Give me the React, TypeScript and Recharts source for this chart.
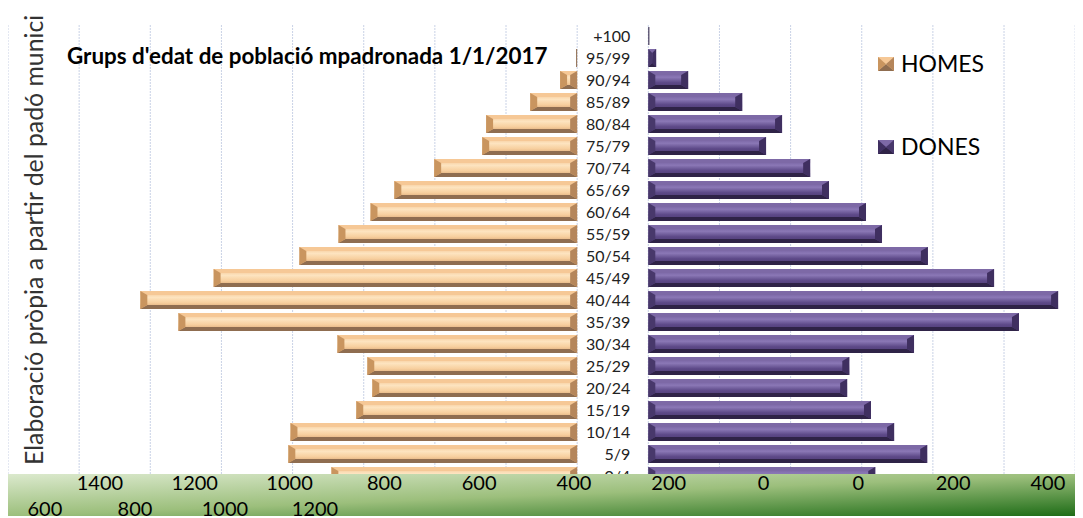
import React from "react";
import {
  Bar,
  BarChart,
  CartesianGrid,
  Customized,
  LabelList,
  XAxis,
  YAxis,
} from "recharts";

// age groups, top of the pyramid first
const AGES = [
  "+100", "95/99", "90/94", "85/89", "80/84", "75/79", "70/74", "65/69", "60/64",
  "55/59", "50/54", "45/49", "40/44", "35/39", "30/34", "25/29", "20/24", "15/19",
  "10/14", "5/9", "0/4",
];
const HOMES = [0, 3, 48, 132, 256, 267, 402, 514, 581, 671, 781, 1022, 1228, 1121, 674, 590, 576, 621, 806, 812, 691];
const DONES = [3, 22, 112, 264, 376, 331, 455, 508, 612, 657, 786, 972, 1152, 1042, 747, 565, 559, 626, 691, 784, 638];

// tick texts as they appear on the (misaligned) axis strip
const AXIS_ROW1 = ["1400", "1200", "1000", "800", "600", "400", "200", "0", "0", "200", "400"];
const AXIS_ROW2 = ["600", "800", "1000", "1200"];
const GRID_TICKS = [-1400, -1200, -1000, -800, -600, -400, -200, 0, 200, 400, 600, 800, 1000, 1200, 1400];

const TITLE = "Grups d'edat de població mpadronada 1/1/2017";
const SIDE_TEXT = "Elaboració pròpia a partir del padó munici";

// width of the empty column holding the age labels, in axis units
const GAP = 200;

const data = AGES.map((age, i) => ({
  age,
  homes: -HOMES[i],
  gap: GAP,
  dones: DONES[i],
}));

type Palette = { face: string; top: string; bottom: string; outer: string; inner: string };

const TAN: Palette = { face: "url(#tanFace)", top: "#f6c896", bottom: "#8f6d50", outer: "#c9955f", inner: "#b5865b" };
const PURPLE: Palette = { face: "url(#purpleFace)", top: "#7d69a6", bottom: "#2f2347", outer: "#3f2f60", inner: "#48386b" };

function bevel(x: number, y: number, w: number, h: number, pal: Palette, outerLeft: boolean, b: number, t: number) {
  const L = outerLeft ? pal.outer : pal.inner;
  const R = outerLeft ? pal.inner : pal.outer;
  return (
    <g>
      <rect x={x} y={y} width={w} height={h} fill={pal.face} />
      <polygon points={`${x},${y} ${x + w},${y} ${x + w - b},${y + t} ${x + b},${y + t}`} fill={pal.top} />
      <polygon points={`${x},${y + h} ${x + w},${y + h} ${x + w - b},${y + h - t} ${x + b},${y + h - t}`} fill={pal.bottom} />
      <polygon points={`${x},${y} ${x + b},${y + t} ${x + b},${y + h - t} ${x},${y + h}`} fill={L} />
      <polygon points={`${x + w},${y} ${x + w - b},${y + t} ${x + w - b},${y + h - t} ${x + w},${y + h}`} fill={R} />
    </g>
  );
}

function BevelBar(props: any) {
  const { x, y, width, height, pal, outerLeft } = props;
  const w = Math.abs(width);
  const x0 = width < 0 ? x + width : x;
  if (!w || w < 0.5) return null;
  if (w < 2.5) return <rect x={x0} y={y} width={w} height={height} fill={pal.bottom} />;
  return bevel(x0, y, w, height, pal, outerLeft, Math.min(7, w / 2), Math.min(4, height / 2));
}

function makeTick(labels: string[], dy: number, withBand: boolean) {
  return (props: any) => {
    const { x, y, payload, index } = props;
    return (
      <g>
        {withBand && index === 0 && <rect x={0} y={466} width={1075} height={42} fill="url(#band)" />}
        <text x={x} y={y + dy} textAnchor="middle" dominantBaseline="central" fontSize={20} fill="#000">
          {labels[payload.value]}
        </text>
      </g>
    );
  };
}

function Overlay() {
  return (
    <g>
      <defs>
        <linearGradient id="tanFace" x1="0" y1="0" x2="0" y2="1">
          <stop offset="0" stopColor="#f3bd87" />
          <stop offset="0.35" stopColor="#fde4c0" />
          <stop offset="0.65" stopColor="#f7cf9e" />
          <stop offset="1" stopColor="#d29d6c" />
        </linearGradient>
        <linearGradient id="purpleFace" x1="0" y1="0" x2="0" y2="1">
          <stop offset="0" stopColor="#6a5695" />
          <stop offset="0.35" stopColor="#8b78b6" />
          <stop offset="0.65" stopColor="#5d4988" />
          <stop offset="1" stopColor="#4b3a72" />
        </linearGradient>
        <linearGradient id="band" x1="0" y1="0" x2="1" y2="1">
          <stop offset="0" stopColor="#dbe9cd" />
          <stop offset="0.5" stopColor="#9cbf7c" />
          <stop offset="1" stopColor="#1d6c16" />
        </linearGradient>
      </defs>
      <text x={59} y={56} fontSize={22.4} fontWeight="bold" fill="#000">
        {TITLE}
      </text>
      <text x={35} y={457} fontSize={24.8} fill="#333" transform="rotate(-90 35 457)">
        {SIDE_TEXT}
      </text>
      {bevel(870, 49, 16, 14, TAN, true, 8, 7)}
      <text x={893} y={64} fontSize={23} fill="#000">HOMES</text>
      {bevel(870, 132, 16, 14, PURPLE, true, 8, 7)}
      <text x={893} y={147} fontSize={23} fill="#000">DONES</text>
    </g>
  );
}

export default function App() {
  return (
    <div style={{ fontFamily: "Lato, 'Noto Sans', sans-serif" }}>
      <BarChart
        width={1075}
        height={510}
        data={data}
        layout="vertical"
        stackOffset="sign"
        barSize={18}
        margin={{ top: 16, right: 0, left: 0, bottom: 0 }}
      >
        <CartesianGrid horizontal={false} stroke="#c9d2e6" strokeDasharray="2 1" />
        <XAxis type="number" domain={[-1600, 1422]} ticks={GRID_TICKS} allowDataOverflow hide />
        <YAxis type="category" dataKey="age" hide />
        <Bar
          dataKey="homes"
          stackId="a"
          isAnimationActive={false}
          shape={(p: any) => <BevelBar {...p} pal={TAN} outerLeft />}
        />
        <Bar dataKey="gap" stackId="a" fill="none" isAnimationActive={false}>
          <LabelList dataKey="age" position="insideRight" offset={18} fontSize={16} fill="#222" />
        </Bar>
        <Bar
          dataKey="dones"
          stackId="a"
          isAnimationActive={false}
          shape={(p: any) => <BevelBar {...p} pal={PURPLE} outerLeft={false} />}
        />
        <Customized component={Overlay} />
        <XAxis
          xAxisId="row1"
          type="number"
          orientation="bottom"
          domain={[-0.97, 10.37]}
          ticks={AXIS_ROW1.map((_, i) => i)}
          allowDataOverflow
          height={31}
          axisLine={false}
          tickLine={false}
          tickSize={0}
          tickMargin={0}
          interval={0}
          tick={makeTick(AXIS_ROW1, -35, true)}
        />
        <XAxis
          xAxisId="row2"
          type="number"
          orientation="top"
          domain={[-0.41, 11.53]}
          ticks={AXIS_ROW2.map((_, i) => i)}
          allowDataOverflow
          height={1}
          axisLine={false}
          tickLine={false}
          tickSize={0}
          tickMargin={0}
          interval={0}
          tick={makeTick(AXIS_ROW2, 483, false)}
        />
      </BarChart>
    </div>
  );
}
